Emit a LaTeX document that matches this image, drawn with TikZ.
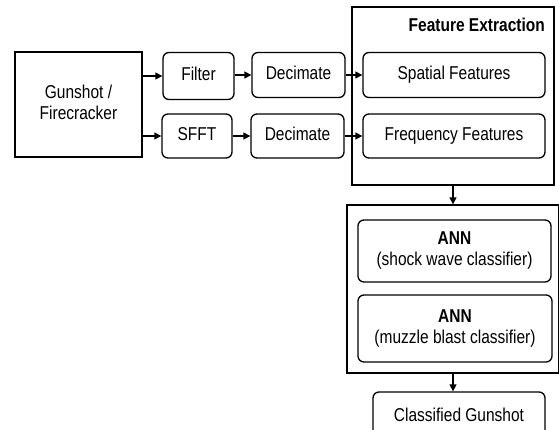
\documentclass[tikz,border=0pt]{standalone}
\usepackage{fontspec}
\setmainfont{Liberation Sans}
\usetikzlibrary{arrows.meta}
\newcommand{\tallt}[1]{\scalebox{1}[1.2]{\begin{tabular}{@{}c@{}}#1\end{tabular}}}

\begin{document}
\begin{tikzpicture}[x=1pt, y=-1pt,
        blk/.style={draw, line width=1.3pt, inner sep=0pt, align=center,
                font=\fontsize{15.5}{17.5}\selectfont},
        rblk/.style={blk, rounded corners=6pt},
        arr/.style={line width=1.3pt, -{Triangle[length=7pt,width=7pt]}}]
        \clip (0,0) rectangle (559,429);
        \node (gun) [blk, minimum width=127pt, minimum height=105pt] at (78.5,104.5) {\tallt{Gunshot /\\Firecracker}};
        \node (fil) [rblk, minimum width=71pt, minimum height=47pt] at (198.5,76) {\tallt{Filter}};
        \node (sfft) [rblk, minimum width=70pt, minimum height=44pt] at (197,136) {\tallt{SFFT}};
        \node (dec1) [rblk, minimum width=93pt, minimum height=45pt] at (298.5,75) {\tallt{Decimate}};
        \node (dec2) [rblk, minimum width=93pt, minimum height=44pt] at (297.5,136) {\tallt{Decimate}};
        \node (fe) [blk, minimum width=202pt, minimum height=178pt] at (453,96) {};
        \node (fetitle) [anchor=east, inner sep=0pt, font=\fontsize{15.5}{17.5}\selectfont\bfseries] at (545,27) {\tallt{Feature Extraction}};
        \node (spa) [rblk, minimum width=182pt, minimum height=45pt] at (454,75) {\tallt{Spatial Features}};
        \node (frq) [rblk, minimum width=182pt, minimum height=44pt] at (454,136) {\tallt{Frequency Features}};
        \node (ann) [blk, minimum width=212pt, minimum height=168pt] at (453,289) {};
        \node (ann1) [rblk, minimum width=193pt, minimum height=62pt] at (454.5,251) {\tallt{\textbf{ANN}\\(shock wave classifier)}};
        \node (ann2) [rblk, minimum width=194pt, minimum height=67pt] at (455,328.5) {\tallt{\textbf{ANN}\\(muzzle blast classifier)}};
        \node (cls) [rblk, minimum width=172pt, minimum height=50pt] at (459,417) {\tallt{Classified Gunshot}};

        \draw [arr] (gun.east |- fil.west) -- (fil.west);
        \draw [arr] (gun.east |- sfft.west) -- (sfft.west);
        \draw [arr] (fil.east |- dec1.west) -- (dec1.west);
        \draw [arr] (sfft.east |- dec2.west) -- (dec2.west);
        \draw [arr] (dec1.east) -- (spa.west);
        \draw [arr] (dec2.east) -- (frq.west);
        \draw [arr] (fe.south) -- (fe.south |- ann.north);
        \draw [arr] (ann.south) -- (ann.south |- cls.north);
\end{tikzpicture}
\end{document}
